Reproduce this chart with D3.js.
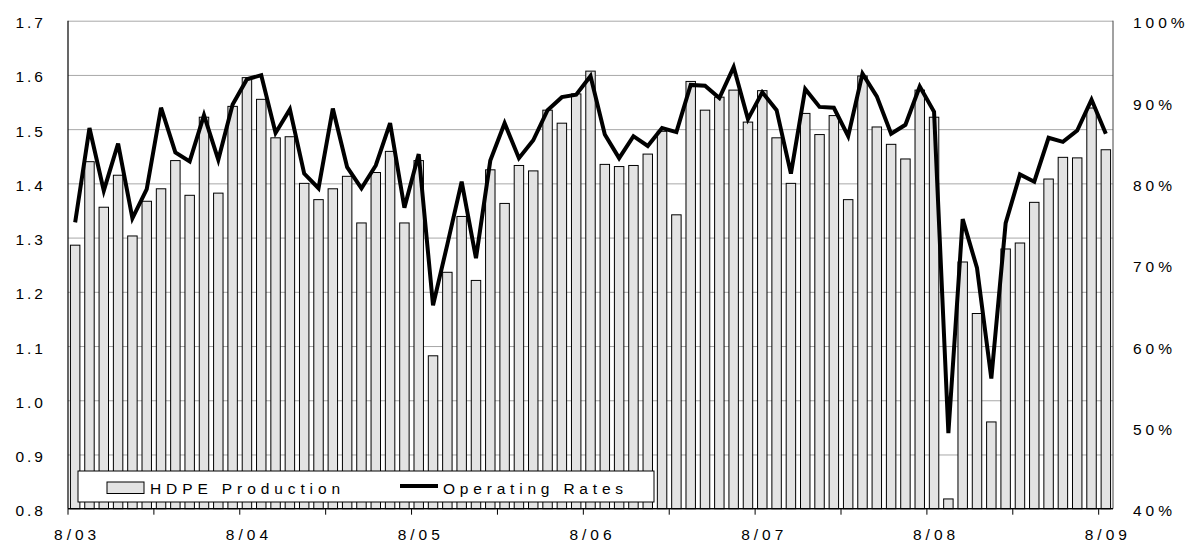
<!DOCTYPE html>
<html>
<head>
<meta charset="UTF-8" />
<title>HDPE Production and Operating Rates</title>
<script src="https://d3js.org/d3.v7.min.js"></script>
<style>
  body { margin: 0; background: #fff; }
  svg { display: block; font-family: "Liberation Sans", Arial, sans-serif; }
  .lbl { font-size: 15.5px; fill: #000; }
</style>
</head>
<body>
<svg id="chart" width="1193" height="543"></svg>
<script>
// monthly, 8/03 .. 8/09
const months = d3.timeMonths(new Date(2003, 7, 1), new Date(2009, 8, 1));
const tickLabels = ['8/03', '8/04', '8/05', '8/06', '8/07', '8/08', '8/09'];
const leftTicks = [0.8, 0.9, 1.0, 1.1, 1.2, 1.3, 1.4, 1.5, 1.6, 1.7];
const rightTicks = [40, 50, 60, 70, 80, 90, 100];

// HDPE production (left axis)
const production = [
  1.286, 1.440, 1.356, 1.415, 1.303, 1.367, 1.390, 1.442, 1.378, 1.522, 1.382, 1.542,
  1.595, 1.555, 1.484, 1.486, 1.400, 1.370, 1.390, 1.413, 1.327, 1.420, 1.459, 1.327,
  1.442, 1.082, 1.236, 1.339, 1.221, 1.425, 1.363, 1.433, 1.423, 1.535, 1.511, 1.565,
  1.607, 1.435, 1.431, 1.433, 1.454, 1.496, 1.342, 1.588, 1.535, 1.559, 1.572, 1.513,
  1.571, 1.484, 1.400, 1.529, 1.490, 1.525, 1.370, 1.598, 1.504, 1.472, 1.445, 1.572,
  1.522, 0.818, 1.255, 1.160, 0.960, 1.279, 1.290, 1.365, 1.408, 1.448, 1.447, 1.539,
  1.462
];

// operating rates, % (right axis)
const rates = [
  75.2, 86.8, 79.1, 84.9, 75.7, 79.3, 89.3, 83.8, 82.7, 88.4, 82.9, 89.7,
  92.8, 93.3, 86.2, 89.1, 81.2, 79.4, 89.2, 82.0, 79.4, 82.2, 87.4, 77.0,
  83.6, 65.0, 72.5, 80.2, 70.8, 82.8, 87.4, 83.1, 85.3, 89.0, 90.6, 90.9,
  93.2, 86.0, 83.1, 85.8, 84.6, 86.8, 86.3, 92.1, 92.0, 90.5, 94.3, 87.9,
  91.2, 89.0, 81.2, 91.6, 89.4, 89.3, 85.8, 93.5, 90.7, 86.1, 87.2, 91.9,
  88.8, 49.3, 75.6, 69.6, 56.0, 75.1, 81.1, 80.2, 85.6, 85.1, 86.5, 90.3,
  86.1
];

const seriesNames = ['HDPE Production', 'Operating Rates'];

const plotLeft = 68, plotRight = 1113, plotTop = 20.7, plotBottom = 508.7;
const svg = d3.select('#chart');

const x = d3.scaleBand()
  .domain(d3.range(months.length))
  .range([plotLeft, plotRight])
  .paddingInner(0.34)
  .paddingOuter(0.17);
const y = d3.scaleLinear().domain([0.8, 1.7]).range([plotBottom, plotTop]);
const y2 = d3.scaleLinear().domain([40, 100]).range([plotBottom, plotTop]);
const boundary = i => x(i) - x.step() * x.paddingInner() / 2;

// gridlines
svg.append('g')
  .attr('transform', `translate(${plotLeft},0)`)
  .call(d3.axisLeft(y).tickValues(leftTicks).tickSize(-(plotRight - plotLeft)).tickFormat(''))
  .call(g => g.select('.domain').remove())
  .call(g => g.selectAll('line').attr('stroke', '#a8a8a8').attr('stroke-width', 1));

// bars
svg.append('g').selectAll('rect')
  .data(production)
  .join('rect')
  .attr('x', (d, i) => x(i))
  .attr('y', d => y(d))
  .attr('width', x.bandwidth())
  .attr('height', d => plotBottom - y(d))
  .attr('fill', '#e3e3e3')
  .attr('stroke', '#000')
  .attr('stroke-width', 1);

// frame
svg.append('line').attr('x1', plotRight).attr('x2', plotRight).attr('y1', plotTop).attr('y2', plotBottom)
  .attr('stroke', '#444').attr('stroke-width', 1);
svg.append('line').attr('x1', plotLeft).attr('x2', plotLeft).attr('y1', plotTop).attr('y2', plotBottom)
  .attr('stroke', '#000').attr('stroke-width', 1.2);
svg.append('line').attr('x1', plotLeft).attr('x2', plotRight).attr('y1', plotBottom).attr('y2', plotBottom)
  .attr('stroke', '#000').attr('stroke-width', 1.2);

// x ticks every 6 months
svg.append('g').selectAll('line')
  .data(d3.range(0, months.length, 6))
  .join('line')
  .attr('x1', d => boundary(d)).attr('x2', d => boundary(d))
  .attr('y1', plotBottom).attr('y2', plotBottom + 6)
  .attr('stroke', '#000');

// operating rate line
const line = d3.line()
  .x((d, i) => x(i) + x.bandwidth() / 2)
  .y(d => y2(d));
svg.append('path')
  .datum(rates)
  .attr('d', line)
  .attr('fill', 'none')
  .attr('stroke', '#000')
  .attr('stroke-width', 4)
  .attr('stroke-linejoin', 'miter');

// left labels
svg.append('g').selectAll('text')
  .data(leftTicks)
  .join('text')
  .attr('class', 'lbl')
  .attr('x', 46)
  .attr('y', d => y(d) + 7.5)
  .attr('text-anchor', 'end')
  .style('letter-spacing', '3px')
  .text(d3.format('.1f'));

// right labels
svg.append('g').selectAll('text')
  .data(rightTicks)
  .join('text')
  .attr('class', 'lbl')
  .attr('x', 1133)
  .attr('y', d => y2(d) + 7.5)
  .style('letter-spacing', '4px')
  .text(d => d + '%');

// x labels, one a year
svg.append('g').selectAll('text')
  .data(tickLabels)
  .join('text')
  .attr('class', 'lbl')
  .attr('x', (d, k) => x(k * 12) + x.bandwidth() / 2 + 2)
  .attr('y', 540)
  .attr('text-anchor', 'middle')
  .style('letter-spacing', '4px')
  .text(d => d);

// legend
const lg = svg.append('g');
lg.append('rect').attr('x', 78).attr('y', 471).attr('width', 576).attr('height', 31)
  .attr('fill', '#fff').attr('stroke', '#000').attr('stroke-width', 1);
lg.append('rect').attr('x', 107).attr('y', 482).attr('width', 37).attr('height', 11.5)
  .attr('fill', '#e3e3e3').attr('stroke', '#000');
lg.append('text').attr('class', 'lbl').attr('x', 150).attr('y', 494)
  .style('letter-spacing', '4.9px').text(seriesNames[0]);
lg.append('line').attr('x1', 400).attr('x2', 438).attr('y1', 486).attr('y2', 486)
  .attr('stroke', '#000').attr('stroke-width', 4);
lg.append('text').attr('class', 'lbl').attr('x', 443).attr('y', 494)
  .style('letter-spacing', '4.8px').text(seriesNames[1]);
</script>
</body>
</html>
